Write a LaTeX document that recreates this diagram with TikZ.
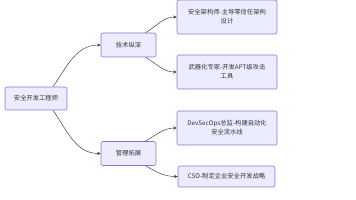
\documentclass[tikz,border=0pt]{standalone}
\usepackage{fontspec}
\setmainfont{Noto Sans CJK SC}
\usetikzlibrary{arrows.meta}
\definecolor{boxfill}{HTML}{ECECFF}
\definecolor{boxline}{HTML}{9370DB}
\definecolor{ink}{HTML}{333333}
\tikzset{
    box/.style={draw=boxline, fill=boxfill, rounded corners=2pt, line width=0.6pt,
        text=ink, font=\fontsize{6.3}{9}\selectfont, align=center, inner sep=3pt},
    edge/.style={draw=ink, line width=0.45pt, -{Stealth[length=3.5pt,width=3pt]}}
}
\begin{document}
\begin{tikzpicture}[x=1pt,y=1pt]
    \useasboundingbox (0,0) rectangle (356,200);
    \node[box, minimum width=62pt, minimum height=23pt] (root) at (36,101.5) {安全开发工程师};
    \node[box, minimum width=55pt, minimum height=24pt] (tech) at (128.5,155) {技术纵深};
    \node[box, minimum width=55pt, minimum height=24pt] (mgmt) at (128.5,46.5) {管理拓展};

    \node[box, minimum width=100pt, minimum height=34pt] (arch) at (227,183) {安全架构师-主导零信任架构\\设计};
    \node[box, minimum width=100pt, minimum height=34pt] (weap) at (227,128) {武器化专家-开发APT级攻击\\工具};
    \node[box, minimum width=100pt, minimum height=34pt] (devs) at (227,72) {DevSecOps总监-构建自动化\\安全流水线};
    \node[box, minimum width=97pt, minimum height=21pt] (cso) at (226.5,23.5) {CSO-制定企业安全开发战略};

    \draw[edge] ([xshift=17pt]root.north) to[out=55,in=180] (tech.west);
    \draw[edge] ([xshift=17pt]root.south) to[out=-55,in=180] (mgmt.west);
    \foreach \a/\b/\c in {tech/arch/weap, mgmt/devs/cso} {
        \draw[edge] ([xshift=17pt]\a.north) to[out=30,in=180] (\b.west);
        \draw[edge] ([xshift=17pt]\a.south) to[out=-30,in=180] (\c.west);
    }
\end{tikzpicture}
\end{document}
